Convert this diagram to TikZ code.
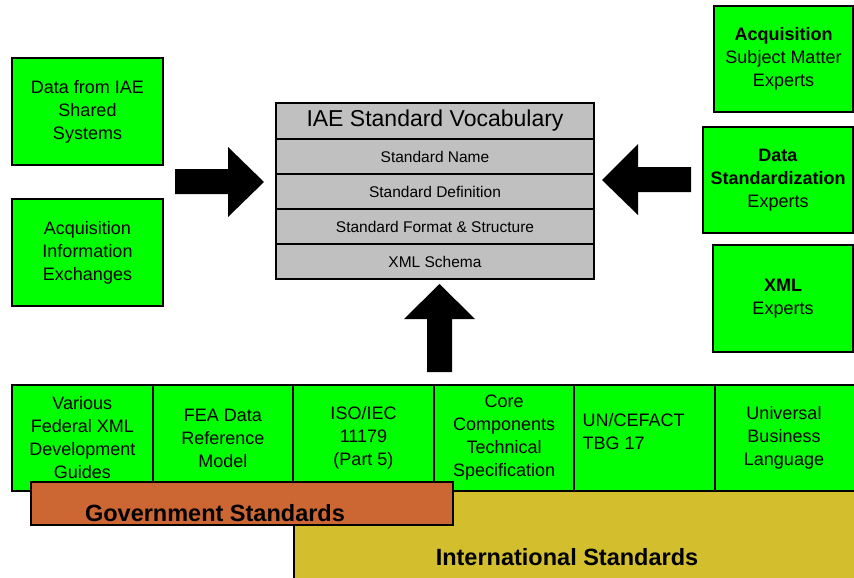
\documentclass[tikz,border=0pt]{standalone}
\usepackage{fontspec}
\setmainfont{Liberation Sans}
\usetikzlibrary{positioning}
\definecolor{boxgreen}{RGB}{0,255,0}
\definecolor{vocgray}{RGB}{192,192,192}
\definecolor{govorange}{RGB}{204,102,51}
\definecolor{intlyellow}{RGB}{211,190,46}

\begin{document}
\begin{tikzpicture}[x=1pt, y=-1pt,
  gbox/.style={draw, line width=2pt, fill=boxgreen, align=center, outer sep=0pt,
    inner sep=1pt, font=\fontsize{18}{23}\selectfont},
  cell/.style={gbox, minimum width=140.6pt, minimum height=106pt},
  rowbox/.style={draw, line width=1.5pt, fill=vocgray, outer sep=0pt, inner sep=0pt,
    minimum width=318pt, minimum height=35pt, font=\fontsize{15.5}{18}\selectfont},
  bigtxt/.style={font=\fontsize{23.5}{26}\selectfont\bfseries}]
  \useasboundingbox (0,0) rectangle (854,578);

  % standards underneath
  \node[draw, line width=2pt, fill=intlyellow, outer sep=0pt, anchor=north west,
    minimum width=580pt, minimum height=110pt] (intl) at (294,491) {};
  \node[bigtxt] (intltxt) at (567,557) {International Standards};

  \node[cell] (fedxml) at (82.3,438) {Various\\Federal XML\\Development\\Guides};
  \node[cell, right=0pt of fedxml] (fea) {FEA Data\\Reference\\Model};
  \node[cell, right=0pt of fea] (iso) {ISO/IEC\\11179\\(Part 5)};
  \node[cell, right=0pt of iso] (ccts) {Core\\Components\\Technical\\Specification};
  \node[cell, right=0pt of ccts] (uncefact) {};
  \node[font=\fontsize{18}{23}\selectfont, align=left, anchor=west] (uncefacttxt)
    at (579,432) {UN/CEFACT\\TBG 17};
  \node[cell, minimum width=150pt, right=0pt of uncefact] (ubl) {};
  \node[font=\fontsize{18}{23}\selectfont, align=center] (ubltxt) at (784,438)
    {Universal\\Business\\Language};

  \node[draw, line width=2pt, fill=govorange, outer sep=0pt,
    minimum width=422pt, minimum height=43pt] (gov) at (242,503.5) {};
  \node[bigtxt] (govtxt) at (215,513) {Government Standards};

  % vocabulary
  \node[rowbox, minimum height=36pt, font=\fontsize{23}{26}\selectfont] (vocab) at (435,121)
    {IAE Standard Vocabulary};
  \node[rowbox, below=0pt of vocab] (stdname) {Standard Name};
  \node[rowbox, below=0pt of stdname] (stddef) {Standard Definition};
  \node[rowbox, below=0pt of stddef] (stdformat) {Standard Format \& Structure};
  \node[rowbox, below=0pt of stdformat] (schema) {XML Schema};
  \draw[line width=2pt] (vocab.north west) rectangle (schema.south east);

  % inputs
  \node[gbox, minimum width=151pt, minimum height=107pt] (shared) at (87.5,111.5)
    {Data from IAE\\Shared\\Systems};
  \node[gbox, minimum width=151pt, minimum height=107pt] (exchanges) at (87.5,252.5)
    {Acquisition\\Information\\Exchanges};

  \node[gbox, minimum width=139pt, minimum height=106pt] (acqsme) at (783.5,59)
    {\textbf{Acquisition}\\Subject Matter\\Experts};
  \node[gbox, minimum width=150pt, minimum height=106pt] (dataexp) at (778,180)
    {\textbf{Data}\\\textbf{Standardization}\\Experts};
  \node[gbox, minimum width=140pt, minimum height=107pt] (xmlexp) at (783,298.5)
    {\textbf{XML}\\Experts};

  % block arrows
  \fill (175,169) -- (228,169) -- (228,147) -- (264,182) -- (228,217) -- (228,194) -- (175,194) -- cycle;
  \fill (691,167) -- (638,167) -- (638,144) -- (602,180) -- (638,215) -- (638,192) -- (691,192) -- cycle;
  \fill (427,372) -- (427,319) -- (404,319) -- (439.5,284) -- (475,319) -- (452,319) -- (452,372) -- cycle;
\end{tikzpicture}
\end{document}
